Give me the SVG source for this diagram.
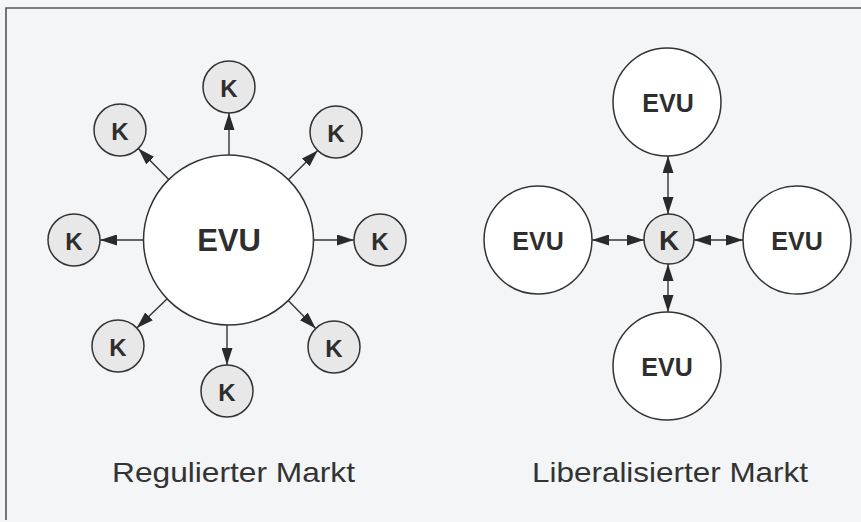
<svg xmlns="http://www.w3.org/2000/svg" width="861" height="522" viewBox="0 0 861 522">
<defs>
<style>
.bg{fill:#f4f5f7}
.frame{stroke:#555;stroke-width:1.6;fill:none}
.big{fill:#ffffff;stroke:#333;stroke-width:1.5}
.k{fill:#e8e8e8;stroke:#333;stroke-width:1.5}
.lbl{font-family:"Liberation Sans",Arial,Helvetica,sans-serif;font-weight:bold;fill:#2e2e2e;text-anchor:middle;dominant-baseline:central}
.cap{font-family:"Liberation Sans",Arial,Helvetica,sans-serif;fill:#333;font-size:28px}
.conn line{stroke:#333;stroke-width:1.4}
.one{marker-end:url(#ah)}
.two{marker-end:url(#ah);marker-start:url(#ah)}
</style>
<marker id="ah" viewBox="0 0 17 11" refX="17" refY="5.5" markerWidth="17" markerHeight="11" markerUnits="userSpaceOnUse" orient="auto-start-reverse">
<path d="M0,0 L17,5.5 L0,11 Z" fill="#2a2a2a"/>
</marker>
</defs>
<rect class="bg" x="0" y="0" width="861" height="522"/>
<polyline class="frame" points="6,520 6,8 861,8"/>

<g id="connectors" class="conn">
<line class="one" x1="229" y1="155" x2="229" y2="113"/>
<line class="one" x1="168.8" y1="179.5" x2="138.3" y2="148.5"/>
<line class="one" x1="288.4" y1="179.8" x2="317.7" y2="150.4"/>
<line class="one" x1="143.5" y1="240" x2="100" y2="240"/>
<line class="one" x1="313.5" y1="240" x2="354" y2="240"/>
<line class="one" x1="167.2" y1="298.8" x2="136.8" y2="328"/>
<line class="one" x1="227" y1="325" x2="227" y2="365"/>
<line class="one" x1="288.2" y1="300.5" x2="315.7" y2="328.5"/>
<line class="two" x1="668" y1="156" x2="668" y2="214"/>
<line class="two" x1="592" y1="240" x2="644" y2="240"/>
<line class="two" x1="743" y1="240" x2="694" y2="240"/>
<line class="two" x1="668" y1="312" x2="668" y2="264"/>
</g>

<g id="evu-reg"><circle class="big" cx="228.5" cy="240" r="85"/><text class="lbl" x="229" y="240" font-size="31">EVU</text></g>
<g id="k-top"><circle class="k" cx="229" cy="87" r="26"/><text class="lbl" x="229" y="88" font-size="24">K</text></g>
<g id="k-ul"><circle class="k" cx="120" cy="130" r="26"/><text class="lbl" x="120" y="131" font-size="24">K</text></g>
<g id="k-ur"><circle class="k" cx="336" cy="132" r="26"/><text class="lbl" x="336" y="133" font-size="24">K</text></g>
<g id="k-l"><circle class="k" cx="74" cy="240" r="26"/><text class="lbl" x="74" y="241" font-size="24">K</text></g>
<g id="k-r"><circle class="k" cx="380" cy="240" r="26"/><text class="lbl" x="380" y="241" font-size="24">K</text></g>
<g id="k-ll"><circle class="k" cx="118" cy="346" r="26"/><text class="lbl" x="118" y="347" font-size="24">K</text></g>
<g id="k-b"><circle class="k" cx="227" cy="391" r="26"/><text class="lbl" x="227" y="392" font-size="24">K</text></g>
<g id="k-lr"><circle class="k" cx="334" cy="347" r="26"/><text class="lbl" x="334" y="348" font-size="24">K</text></g>

<g id="k-center"><circle class="k" cx="669" cy="239" r="25"/><text class="lbl" x="669" y="240" font-size="28">K</text></g>
<g id="evu-top"><circle class="big" cx="667" cy="102" r="54"/><text class="lbl" x="668" y="103" font-size="25">EVU</text></g>
<g id="evu-left"><circle class="big" cx="538" cy="240" r="54"/><text class="lbl" x="538" y="241" font-size="25">EVU</text></g>
<g id="evu-right"><circle class="big" cx="797" cy="240" r="54"/><text class="lbl" x="797" y="241" font-size="25">EVU</text></g>
<g id="evu-bottom"><circle class="big" cx="667" cy="366" r="54"/><text class="lbl" x="667" y="367" font-size="25">EVU</text></g>

<g id="captions">
<text class="cap" x="112" y="482" textLength="243" lengthAdjust="spacingAndGlyphs">Regulierter Markt</text>
<text class="cap" x="532" y="482" textLength="276" lengthAdjust="spacingAndGlyphs">Liberalisierter Markt</text>
</g>
</svg>
